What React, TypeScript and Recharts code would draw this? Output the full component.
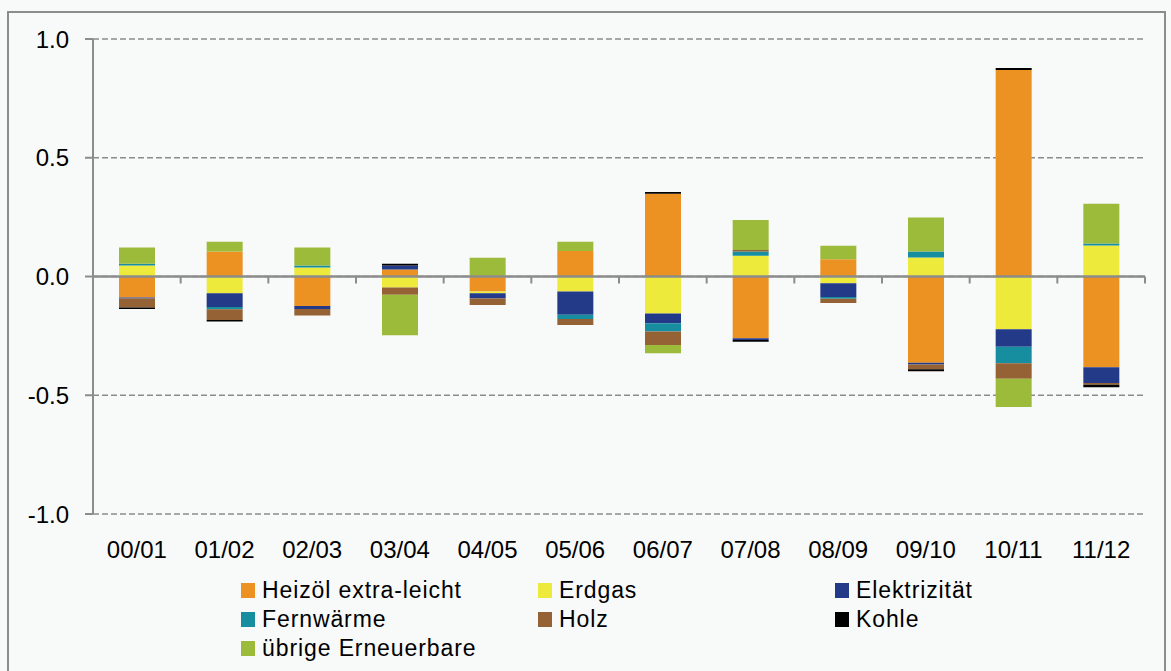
import React from 'react';
import {
  Bar,
  BarChart,
  CartesianGrid,
  ReferenceLine,
  XAxis,
  YAxis,
} from 'recharts';

// Heating-season categories (Jahr/Jahr)
const CATEGORIES = ['00/01', '01/02', '02/03', '03/04', '04/05', '05/06', '06/07', '07/08', '08/09', '09/10', '10/11', '11/12'];

// Contributions per energy source
const HEIZOEL = [-0.088, 0.105, -0.124, 0.029, -0.063, 0.107, 0.348, -0.26, 0.073, -0.363, 0.87, -0.382];
const ERDGAS = [0.046, -0.07, 0.038, -0.046, -0.008, -0.063, -0.156, 0.087, -0.028, 0.08, -0.222, 0.131];
const ELEKTRIZITAET = [-0.005, -0.058, -0.013, 0.017, -0.022, -0.098, -0.041, -0.007, -0.058, -0.008, -0.074, -0.066];
const FERNWAERME = [0.008, -0.01, 0.008, 0, 0, -0.018, -0.035, 0.018, -0.008, 0.025, -0.069, 0.008];
const HOLZ = [-0.038, -0.045, -0.027, -0.031, -0.027, -0.025, -0.056, 0.007, -0.018, -0.02, -0.066, -0.008];
const KOHLE = [-0.006, -0.006, 0, 0.008, 0, 0, 0.008, -0.008, 0, -0.008, 0.008, -0.01];
const UEBRIGE = [0.068, 0.041, 0.076, -0.17, 0.079, 0.039, -0.035, 0.126, 0.056, 0.143, -0.118, 0.167];

const Y_TICKS = [-1, -0.5, 0, 0.5, 1];

const SERIES = [
  { key: 'heizoel', name: 'Heizöl extra-leicht', color: '#ec9222', values: HEIZOEL },
  { key: 'erdgas', name: 'Erdgas', color: '#eeea3c', values: ERDGAS },
  { key: 'elektrizitaet', name: 'Elektrizität', color: '#233a88', values: ELEKTRIZITAET },
  { key: 'fernwaerme', name: 'Fernwärme', color: '#178da0', values: FERNWAERME },
  { key: 'holz', name: 'Holz', color: '#956235', values: HOLZ },
  { key: 'kohle', name: 'Kohle', color: '#000000', values: KOHLE },
  { key: 'uebrige', name: 'übrige Erneuerbare', color: '#9cbb3b', values: UEBRIGE },
];

const data = CATEGORIES.map((cat, i) => {
  const row: Record<string, string | number> = { cat };
  SERIES.forEach((s) => {
    row[s.key] = s.values[i];
  });
  return row;
});

const W = 1171;
const H = 671;
const PLOT_LEFT = 93;
const PLOT_RIGHT = 1145;
const PLOT_TOP = 39;
const PLOT_BOTTOM = 514;
const ZERO_Y = PLOT_TOP + (PLOT_BOTTOM - PLOT_TOP) / 2;
const HALF_BAND = (PLOT_RIGHT - PLOT_LEFT) / CATEGORIES.length / 2;
const AXIS_GREY = '#8c8c8c';
const FONT = '"Liberation Sans", Arial, sans-serif';

// category labels at the bottom + boundary ticks on the zero line
function CategoryTick(props: any) {
  const { x, payload } = props;
  return (
    <g>
      <line x1={x + HALF_BAND} x2={x + HALF_BAND} y1={ZERO_Y} y2={ZERO_Y + 7} stroke={AXIS_GREY} strokeWidth={2} />
      <text x={x} y={PLOT_BOTTOM + 44} textAnchor="middle" fontSize={24} fill="#000" fontFamily={FONT}>
        {payload.value}
      </text>
    </g>
  );
}

const LEGEND_COLS = [241, 538, 835];
const LEGEND_ROWS = [583, 612, 641];

export default function App() {
  return (
    <div style={{ position: 'absolute', left: 0, top: 0, width: W, height: H, background: '#f8f9f9', overflow: 'hidden', fontFamily: FONT }}>
      <div style={{ position: 'absolute', left: 7, top: 11, width: 1155, height: 700, border: `2px solid ${AXIS_GREY}` }} />
      <div style={{ position: 'absolute', left: 0, top: 0 }}>
        <BarChart
          width={W}
          height={H}
          data={data}
          stackOffset="sign"
          barSize={36}
          margin={{ top: PLOT_TOP, right: W - PLOT_RIGHT, bottom: 97, left: 13 }}
        >
          <CartesianGrid vertical={false} stroke={AXIS_GREY} strokeDasharray="6 3" strokeWidth={1.5} />
          <XAxis
            dataKey="cat"
            axisLine={false}
            tickLine={false}
            height={60}
            interval={0}
            tick={<CategoryTick />}
          />
          <YAxis
            domain={[-1, 1]}
            ticks={Y_TICKS}
            width={80}
            tickSize={8}
            tickMargin={16}
            axisLine={{ stroke: AXIS_GREY, strokeWidth: 2 }}
            tickLine={{ stroke: AXIS_GREY, strokeWidth: 2 }}
            tickFormatter={(v) => Number(v).toFixed(1)}
            tick={{ fill: '#000', fontSize: 24, fontFamily: FONT }}
          />
          {SERIES.map((s) => (
            <Bar key={s.key} dataKey={s.key} name={s.name} stackId="a" fill={s.color} isAnimationActive={false} />
          ))}
          <ReferenceLine y={0} stroke={AXIS_GREY} strokeWidth={2.5} />
        </BarChart>
      </div>
      {SERIES.map((s, i) => (
        <div
          key={s.key}
          style={{
            position: 'absolute',
            left: LEGEND_COLS[i % 3],
            top: LEGEND_ROWS[Math.floor(i / 3)],
            display: 'flex',
            alignItems: 'flex-start',
            whiteSpace: 'nowrap',
          }}
        >
          <div style={{ width: 14, height: 15, background: s.color, marginTop: 0 }} />
          <span style={{ marginLeft: 7, fontSize: 23, letterSpacing: 0.9, lineHeight: '17px', marginTop: -1, color: '#000' }}>
            {s.name}
          </span>
        </div>
      ))}
    </div>
  );
}
